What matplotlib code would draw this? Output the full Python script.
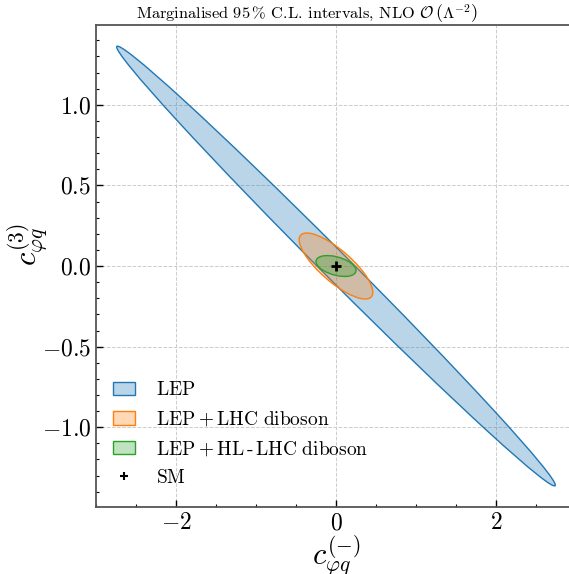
import matplotlib
matplotlib.use("Agg")
import matplotlib.pyplot as plt
import matplotlib.ticker as mticker
from matplotlib.patches import Ellipse, Patch
from matplotlib.lines import Line2D
from matplotlib.colors import to_rgba

plt.rcParams["font.family"] = "serif"
plt.rcParams["font.serif"] = ["cmr10"]
plt.rcParams["mathtext.fontset"] = "cm"
plt.rcParams["axes.formatter.use_mathtext"] = True

# Fit ellipses (data units): centre, semi-axes, rotation angle in degrees
labels = [r"$\mathrm{LEP}$",
          r"$\mathrm{LEP + LHC\ diboson}$",
          r"$\mathrm{LEP + HL\,\text{-}\,LHC\ diboson}$"]
colors = ["#1f77b4", "#ff7f0e", "#2ca02c"]
center_x = [0.0, 0.0, 0.0]
center_y = [0.0, 0.0, 0.0]
semi_major = [3.06, 0.49, 0.252]
semi_minor = [0.106, 0.117, 0.058]
angles = [-26.4, -20.7, -6.7]

sm_x = [0.0]
sm_y = [0.0]

fig = plt.figure(figsize=(5.69, 5.74), dpi=100)
ax = fig.add_axes([0.1687, 0.1167, 0.8436, 0.8397])

handles = []
for i in range(len(labels)):
    e = Ellipse((center_x[i], center_y[i]), 2 * semi_major[i], 2 * semi_minor[i],
                angle=angles[i], facecolor=to_rgba(colors[i], 0.3),
                edgecolor=colors[i], lw=1.0, zorder=2 + i)
    ax.add_patch(e)
    handles.append(Patch(facecolor=to_rgba(colors[i], 0.3), edgecolor=colors[i],
                         lw=1.0, label=labels[i]))

ax.plot(sm_x, sm_y, "k+", ms=7, mew=2, zorder=10)
handles.append(Line2D([], [], color="k", marker="+", ls="none", ms=6, mew=1.5,
                      label=r"$\mathrm{SM}$"))

ax.set_xlim(-3, 3)
ax.set_ylim(-1.495, 1.495)

ax.xaxis.set_major_locator(mticker.MultipleLocator(2))
ax.xaxis.set_minor_locator(mticker.MultipleLocator(0.5))
ax.yaxis.set_major_locator(mticker.MultipleLocator(0.5))
ax.yaxis.set_minor_locator(mticker.MultipleLocator(0.1))
ax.yaxis.set_major_formatter(mticker.FuncFormatter(lambda v, _: rf"${v:.1f}$"))
ax.xaxis.set_major_formatter(mticker.FuncFormatter(lambda v, _: rf"${v:.0f}$"))

ax.tick_params(which="both", direction="in", top=False, right=False, labelsize=17)
ax.tick_params(which="major", length=5, width=1)
ax.tick_params(which="minor", length=2.5, width=0.8)
for s in ax.spines.values():
    s.set_color("#555555")
    s.set_linewidth(1.3)

ax.grid(True, which="major", ls="--", color="#cccccc", lw=0.7)
ax.set_axisbelow(True)

ax.set_xlabel(r"$c_{\varphi q}^{(-)}$", fontsize=22, labelpad=-1)
ax.set_ylabel(r"$c_{\varphi q}^{(3)}$", fontsize=22)
ax.yaxis.set_label_coords(-0.095, 0.545)

ax.set_title(r"Marginalised $95\,\%$ C.L. intervals, NLO $\mathcal{O}\,\left(\Lambda_{\,}^{-2}\right)$",
             fontsize=11.8, pad=2, x=0.44)

ax.legend(handles=handles, loc="lower left", frameon=False, fontsize=14,
          handlelength=1.1, handleheight=0.7, handletextpad=1.1,
          labelspacing=0.55, bbox_to_anchor=(0.0, 0.005))

fig.savefig("out.png", dpi=100)
